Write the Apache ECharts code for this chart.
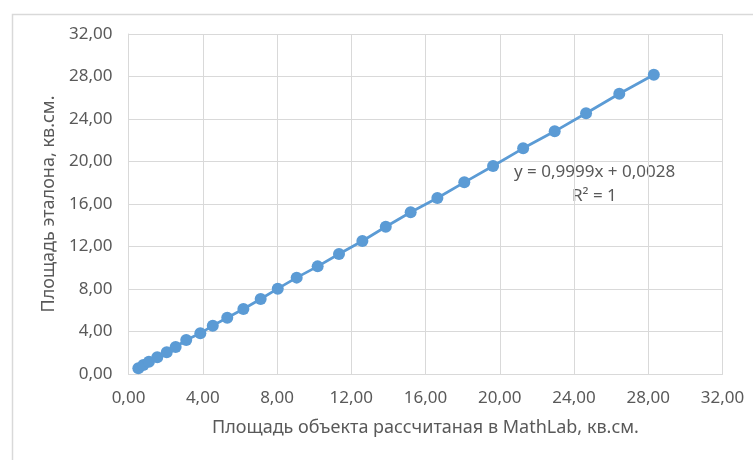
<!DOCTYPE html>
<html>
<head>
<meta charset="utf-8">
<script src="https://cdn.jsdelivr.net/npm/echarts@6/dist/echarts.min.js"></script>
<style>
  html, body { margin: 0; padding: 0; background: #fff; }
  #chart { width: 753px; height: 460px; }
</style>
</head>
<body>
<div id="chart"></div>
<script>
// Measured area (MathLab) vs reference area, sq. cm
const measuredArea = [0.53, 0.80, 1.10, 1.55, 2.06, 2.54, 3.11, 3.87, 4.54, 5.32, 6.19, 7.12, 8.04, 9.06, 10.19, 11.34, 12.60, 13.86, 15.20, 16.64, 18.09, 19.64, 21.26, 22.96, 24.65, 26.44, 28.30];
const referenceArea = [0.54, 0.85, 1.16, 1.57, 2.04, 2.54, 3.20, 3.83, 4.55, 5.30, 6.12, 7.06, 8.03, 9.07, 10.13, 11.29, 12.52, 13.86, 15.22, 16.56, 18.04, 19.58, 21.24, 22.84, 24.54, 26.38, 28.17];

const xTitle = 'Площадь объекта рассчитаная в MathLab, кв.см.';
const yTitle = 'Площадь эталона, кв.см.';
const trendEquation = 'y = 0,9999x + 0,0028';
const trendR2 = 'R² = 1';

const FONT = 'Noto Sans';
const TEXT = '#595959';
const GRID = '#d9d9d9';

const points = measuredArea.map((x, i) => [x, referenceArea[i]]);
const fmt = v => v.toFixed(2).replace('.', ',');

const chart = echarts.init(document.getElementById('chart'));
chart.setOption({
  animation: false,
  backgroundColor: '#fff',
  textStyle: { fontFamily: FONT },
  grid: { left: 128.5, right: 30.5, top: 34, bottom: 86 },
  xAxis: {
    type: 'value', min: 0, max: 32, interval: 4,
    axisLine: { show: true, lineStyle: { color: GRID, width: 1 } },
    axisTick: { show: false },
    splitLine: { show: true, lineStyle: { color: GRID, width: 1 } },
    axisLabel: { color: TEXT, fontSize: 17, fontFamily: FONT, margin: 16, formatter: fmt },
    name: xTitle, nameLocation: 'middle', nameGap: 45,
    nameTextStyle: { color: TEXT, fontSize: 18, fontFamily: FONT }
  },
  yAxis: {
    type: 'value', min: 0, max: 32, interval: 4,
    axisLine: { show: true, lineStyle: { color: GRID, width: 1 } },
    axisTick: { show: false },
    splitLine: { show: true, lineStyle: { color: GRID, width: 1 } },
    axisLabel: { color: TEXT, fontSize: 17, fontFamily: FONT, margin: 16, formatter: fmt },
    name: yTitle, nameLocation: 'middle', nameGap: 68,
    nameTextStyle: { color: TEXT, fontSize: 18, fontFamily: FONT }
  },
  graphic: [
    { type: 'rect', left: 10, top: 12, z: -1, silent: true,
      shape: { width: 800, height: 500 },
      style: { fill: 'none', stroke: '#d9d9d9', lineWidth: 1.5 } },
    { type: 'text', left: 514, top: 164,
      style: { text: trendEquation, fill: TEXT, font: '17px "' + FONT + '"' } },
    { type: 'text', left: 572, top: 188,
      style: { text: trendR2, fill: TEXT, font: '17px "' + FONT + '"' } }
  ],
  series: [{
    type: 'line',
    data: points,
    symbol: 'circle',
    symbolSize: 12,
    showAllSymbol: true,
    lineStyle: { color: '#5b9bd5', width: 2.75 },
    itemStyle: { color: '#5b9bd5' }
  }]
});
</script>
</body>
</html>
